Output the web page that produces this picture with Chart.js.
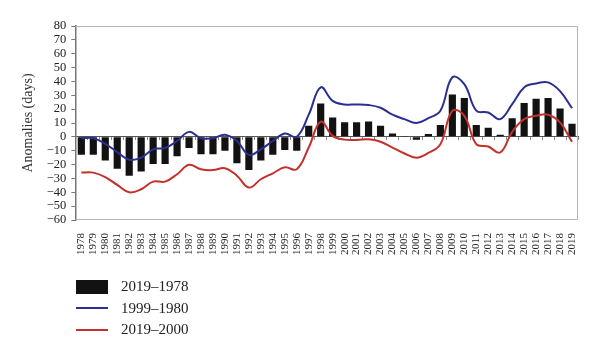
<!DOCTYPE html>
<html>
<head>
<meta charset="utf-8">
<script src="https://cdn.jsdelivr.net/npm/chart.js@4.4.1/dist/chart.umd.min.js"></script>
<style>
  html, body { margin: 0; padding: 0; background: #fff; }
  #wrap { position: relative; width: 600px; height: 355px; }
  canvas { position: absolute; left: 0; top: 0; }
  #legend { position: absolute; left: 76px; top: 276px; font-family: "Liberation Serif", "Times New Roman", serif; font-size: 15px; color: #222; }
  .item { display: flex; align-items: center; height: 21.5px; }
  .sw { width: 32px; display: flex; align-items: center; justify-content: center; margin-right: 13px; }
</style>
</head>
<body>
<div id="wrap">
  <canvas id="c" width="600" height="355"></canvas>
  <div id="legend"></div>
</div>
<script>
const years = [];
for (let y = 1978; y <= 2019; y++) years.push(String(y));

const seriesNames = ["2019\u20131978", "1999\u20131980", "2019\u20132000"];

const bars = [-13, -13, -17, -23, -28, -25, -19.5, -19.5, -14, -8,
  -12.5, -12.5, -10, -19, -24, -17, -13, -9.5, -10, 8,
  24, 14, 10.5, 10.5, 11, 8, 2.5, 0.3, -2, 2,
  8.5, 30.5, 28, 8.5, 6.5, 1.5, 13.5, 24.5, 27.5, 28,
  20.5, 9.5];

const blue = [-1, -1, -5, -11, -16.5, -15, -9, -8, -3, 3.6,
  -1, -1, 1.5, -3, -13, -9, -3, 2.4, 0, 16,
  35.7, 26, 23.4, 23.4, 23, 21, 16, 12.8, 10, 13.5,
  18.8, 43, 38, 19, 17.6, 12.8, 23.6, 35.7, 38.5, 39.3,
  33, 20.7];

const red = [-25.8, -25.8, -29, -34.7, -40, -37.8, -32.3, -32.3, -27, -20.2,
  -23.4, -24, -22.6, -28, -36.6, -30.6, -26.3, -22, -23.4, -7.7,
  11, 0.7, -2, -2.2, -1.7, -3.5, -7.7, -12, -15, -11.6,
  -5.3, 18.8, 15.2, -5.3, -7, -11.3, 3.6, 12.8, 15.2, 16,
  10.4, -3.6];

const yMin = -60, yMax = 80, yStep = 10;

const serif = "'Liberation Serif', 'Times New Roman', serif";

const boxPlugin = {
  id: 'box',
  afterDraw(chart) {
    const a = chart.chartArea, ctx = chart.ctx;
    ctx.save();
    ctx.strokeStyle = '#b5b5b5';
    ctx.lineWidth = 1;
    ctx.beginPath();
    ctx.moveTo(a.left, a.top + 0.5);
    ctx.lineTo(a.right - 0.5, a.top + 0.5);
    ctx.lineTo(a.right - 0.5, a.bottom - 0.5);
    ctx.lineTo(a.left, a.bottom - 0.5);
    ctx.stroke();
    ctx.restore();
  }
};

const chart = new Chart(document.getElementById('c'), {
  type: 'bar',
  data: {
    labels: years,
    datasets: [
      { type: 'line', label: seriesNames[1], data: blue, borderColor: '#2b2f92', borderWidth: 2, pointRadius: 0, tension: 0.4, fill: false, order: 0 },
      { type: 'line', label: seriesNames[2], data: red, borderColor: '#c4302b', borderWidth: 2, pointRadius: 0, tension: 0.4, fill: false, order: 0 },
      { type: 'bar', label: seriesNames[0], data: bars, backgroundColor: '#121212', categoryPercentage: 1, barPercentage: 0.6, order: 1 }
    ]
  },
  options: {
    responsive: false,
    animation: false,
    layout: { padding: { left: 20, right: 22, top: 26, bottom: 95 } },
    plugins: { legend: { display: false }, tooltip: { enabled: false } },
    scales: {
      x: {
        type: 'category',
        offset: true,
        grid: { display: false },
        border: { display: false },
        ticks: {
          autoSkip: false, maxRotation: 90, minRotation: 90, padding: 5,
          color: '#222', font: { family: serif, size: 11 }
        }
      },
      x0: {
        type: 'category',
        labels: years,
        position: { y: 0 },
        offset: true,
        grid: { display: true, offset: true, drawOnChartArea: false, tickLength: 3, color: '#8a8a8a' },
        border: { display: true, color: '#555', width: 1 },
        ticks: { display: false }
      },
      y: {
        min: yMin, max: yMax,
        grid: { display: true, drawOnChartArea: false, tickLength: 4, color: '#777' },
        border: { display: true, color: '#777', width: 1.5 },
        ticks: {
          stepSize: yStep, autoSkip: false, padding: 5, color: '#222',
          font: { family: serif, size: 12.5 },
          callback: v => String(v).replace('-', '\u2212')
        },
        title: { display: true, text: 'Anomalies (days)', color: '#333', font: { family: serif, size: 14 }, padding: { top: 0, bottom: 5 } }
      }
    }
  },
  plugins: [boxPlugin]
});

// HTML legend built from the chart's datasets
const legend = document.getElementById('legend');
const order = [2, 0, 1];
order.forEach(i => {
  const ds = chart.data.datasets[i];
  const item = document.createElement('div');
  item.className = 'item';
  const sw = document.createElement('div');
  sw.className = 'sw';
  const mark = document.createElement('div');
  if (ds.type === 'bar') {
    mark.style.cssText = 'width:32px;height:14px;background:' + ds.backgroundColor;
  } else {
    mark.style.cssText = 'width:32px;height:2px;background:' + ds.borderColor;
  }
  sw.appendChild(mark);
  const txt = document.createElement('span');
  txt.textContent = ds.label;
  item.appendChild(sw);
  item.appendChild(txt);
  legend.appendChild(item);
});
</script>
</body>
</html>
